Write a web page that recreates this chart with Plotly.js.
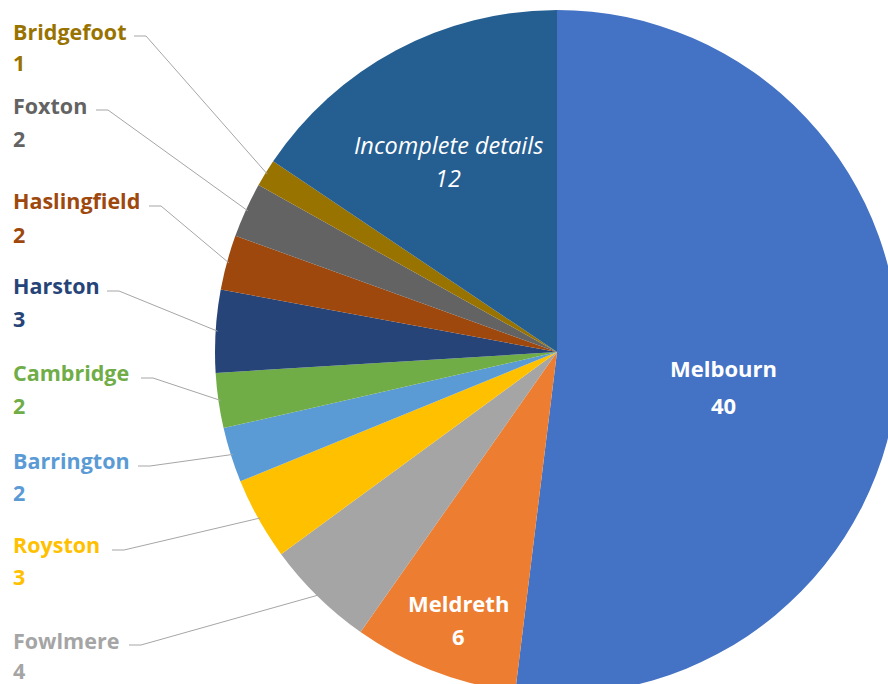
<!DOCTYPE html>
<html>
<head>
<meta charset="utf-8">
<script src="https://cdn.plot.ly/plotly-3.0.1.min.js"></script>
<style>
html,body{margin:0;padding:0;overflow:hidden;background:#fff;width:888px;height:684px;}
#chart{position:absolute;left:0;top:0;width:1114px;height:704px;}
</style>
</head>
<body>
<div id="chart"></div>
<script>
// ---- data ----
const labels = ['Melbourn','Meldreth','Fowlmere','Royston','Barrington','Cambridge','Harston','Haslingfield','Foxton','Bridgefoot','Incomplete details'];
const values = [40,6,4,3,2,2,3,2,2,1,12];
const colors = ['#4472C4','#ED7D31','#A5A5A5','#FFC000','#5B9BD5','#70AD47','#264478','#9E480E','#636363','#997300','#255E91'];

// ---- layout geometry (pixels) ----
const W = 1114, H = 704;
const CX = 557, CY = 352, R = 342;
// outside labels: name centre y, value centre y, leader start x, leader y
const outside = {
  'Bridgefoot':   {ny:31,  vy:63,  lx:134, ly:36},
  'Foxton':       {ny:105, vy:138, lx:96,  ly:110},
  'Haslingfield': {ny:200, vy:234, lx:149, ly:206},
  'Harston':      {ny:285, vy:318, lx:107, ly:291},
  'Cambridge':    {ny:372, vy:405, lx:141, ly:378},
  'Barrington':   {ny:460, vy:492, lx:138, ly:466},
  'Royston':      {ny:544, vy:576, lx:112, ly:550},
  'Fowlmere':     {ny:640, vy:670, lx:129, ly:645}
};
// inside labels: centre x, name y, value y, italic
const inside = {
  'Melbourn':           {x:723, ny:368, vy:405, italic:false},
  'Meldreth':           {x:458, ny:603, vy:636, italic:false},
  'Incomplete details': {x:448, ny:145, vy:178, italic:true}
};

const px = x => x / W;
const py = y => 1 - y / H;
const FONT = 'Open Sans, Noto Sans, sans-serif';
const FS = 21.5;

const total = values.reduce((a,b)=>a+b,0);
const annotations = [];
const shapes = [];
let cum = 0;
labels.forEach((lab, i) => {
  const v = values[i];
  const mid = (cum + v/2) / total * 2 * Math.PI; // clockwise from 12 o'clock
  cum += v;
  if (outside[lab]) {
    const o = outside[lab];
    annotations.push({x:px(11), y:py(o.ny), xref:'paper', yref:'paper', xanchor:'left', yanchor:'middle',
      text:'<b>'+lab+'</b>', showarrow:false, font:{family:FONT, size:FS, color:colors[i]}});
    annotations.push({x:px(11), y:py(o.vy), xref:'paper', yref:'paper', xanchor:'left', yanchor:'middle',
      text:'<b>'+v+'</b>', showarrow:false, font:{family:FONT, size:FS, color:colors[i]}});
    const ex = CX + (R-2) * Math.sin(mid);
    const ey = CY - (R-2) * Math.cos(mid);
    shapes.push({type:'path', xref:'paper', yref:'paper',
      path:'M '+px(o.lx)+' '+py(o.ly)+' L '+px(o.lx+12)+' '+py(o.ly)+' L '+px(ex)+' '+py(ey),
      line:{color:'#A6A6A6', width:1}});
  } else if (inside[lab]) {
    const o = inside[lab];
    const wrap = t => o.italic ? '<i>'+t+'</i>' : '<b>'+t+'</b>';
    const fs = o.italic ? 23.5 : 22;
    annotations.push({x:px(o.x), y:py(o.ny), xref:'paper', yref:'paper', xanchor:'center', yanchor:'middle',
      text:wrap(lab), showarrow:false, font:{family:FONT, size:fs, color:'#FFFFFF'}});
    annotations.push({x:px(o.x), y:py(o.vy), xref:'paper', yref:'paper', xanchor:'center', yanchor:'middle',
      text:wrap(String(v)), showarrow:false, font:{family:FONT, size:fs, color:'#FFFFFF'}});
  }
});

const trace = {
  type:'pie', labels:labels, values:values, sort:false, direction:'clockwise', rotation:0,
  marker:{colors:colors, line:{width:0}}, textinfo:'none', textposition:'none', hoverinfo:'label+value',
  domain:{x:[0,1], y:[(H-CY-R)/H, (H-CY+R)/H]}
};

Plotly.newPlot('chart', [trace], {
  width:W, height:H, margin:{l:0,r:0,t:0,b:0}, showlegend:false,
  paper_bgcolor:'#FFFFFF', annotations:annotations, shapes:shapes
}, {staticPlot:true});
</script>
</body>
</html>
